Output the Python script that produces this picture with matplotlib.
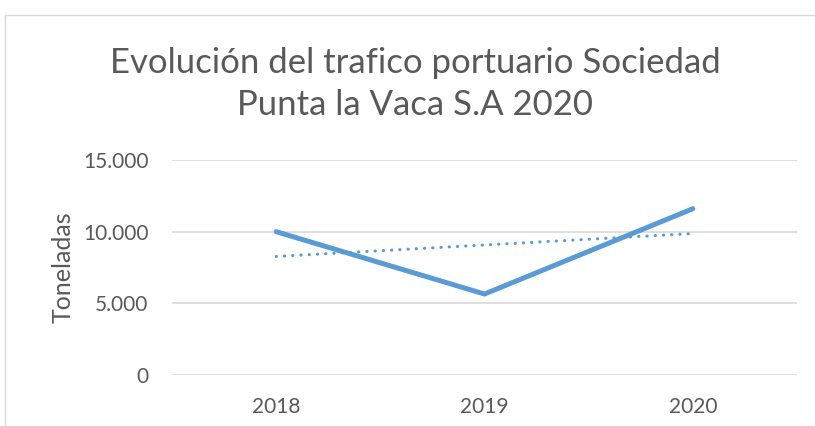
import matplotlib
matplotlib.use("Agg")
import matplotlib.pyplot as plt
from matplotlib.ticker import FuncFormatter
from matplotlib.patches import Rectangle

years = ["2018", "2019", "2020"]
toneladas = [10000, 5650, 11600]
tendencia = [8270, 9070, 9870]
y_ticks = [0, 5000, 10000, 15000]

title = "Evolución del trafico portuario Sociedad\nPunta la Vaca S.A 2020"
ylabel = "Toneladas"

color = "#5B9BD5"
grey = "#595959"
grid = "#D9D9D9"
font = "Lato"

fig = plt.figure(figsize=(8.15, 4.26), dpi=100)
fig.patch.set_facecolor("white")

# chart border
fig.patches.append(Rectangle((5/815, -0.1), 1.2, 1 - 15/426 + 0.1, transform=fig.transFigure,
                             fill=False, edgecolor="#D9D9D9", linewidth=1))

ax = fig.add_axes([172/815, 1 - 375/426, (797 - 172)/815, (375 - 160)/426])
x = list(range(len(years)))
ax.plot(x, toneladas, color=color, linewidth=3.6, solid_capstyle="round", solid_joinstyle="miter", zorder=3)
ax.plot(x, tendencia, color=color, linewidth=2.2, linestyle=(0, (0.1, 2.6)), dash_capstyle="round", zorder=2)

ax.set_xlim(-0.5, len(years) - 0.5)
ax.set_ylim(0, 15000)
ax.set_xticks(x)
ax.set_xticklabels(years)
ax.set_yticks(y_ticks)
ax.yaxis.set_major_formatter(FuncFormatter(lambda v, p: f"{int(v):,}".replace(",", ".")))
ax.grid(axis="y", color=grid, linewidth=1.2)
ax.set_axisbelow(True)
for s in ax.spines.values():
    s.set_visible(False)
ax.tick_params(axis="both", length=0, colors=grey, labelsize=15)
ax.tick_params(axis="x", pad=16)
ax.tick_params(axis="y", pad=17)
for lab in ax.get_xticklabels() + ax.get_yticklabels():
    lab.set_fontfamily(font)
ax.set_ylabel(ylabel, fontsize=18, color=grey, fontfamily=font, labelpad=6)

fig.text(415/815, 1 - 84/426, title, ha="center", va="center", fontsize=25, color=grey,
         fontfamily=font, linespacing=1.35)

fig.savefig("out.png", dpi=100)
